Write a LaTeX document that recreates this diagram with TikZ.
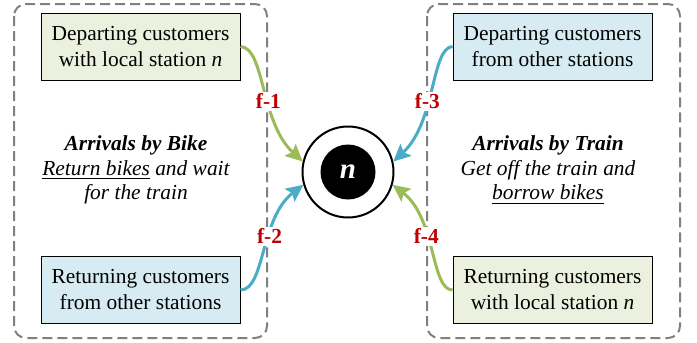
\documentclass[tikz,border=0pt]{standalone}
\usepackage{fontspec}
\setmainfont{Liberation Serif}
\usepackage{tikz}
\usetikzlibrary{arrows.meta,positioning}

\definecolor{boxgreen}{HTML}{EBF1DE}
\definecolor{boxblue}{HTML}{D6ECF2}
\definecolor{flowgreen}{HTML}{9BBB59}
\definecolor{flowblue}{HTML}{4BACC6}
\definecolor{flowred}{HTML}{C00000}

\begin{document}
\begin{tikzpicture}[x=0.5pt, y=-0.5pt, font=\fontsize{10.7}{13}\selectfont,
    group/.style={draw=gray, dash pattern=on 5pt off 2.5pt, line width=1pt, rounded corners=6pt},
    custbox/.style={rectangle, draw, line width=0.5pt, align=center, minimum width=99.5pt, minimum height=33.5pt},
    flow/.style={line width=1.5pt, -{Stealth[length=8.5pt,width=8pt,inset=1.5pt]}},
    flowlabel/.style={fill=white, text=flowred, font=\fontsize{10.7}{13}\selectfont\bfseries, inner sep=1pt},
    info/.style={align=center, font=\fontsize{10.7}{12.3}\selectfont\itshape}]

    \useasboundingbox (0,0) rectangle (697,343);

    % dashed groups
    \draw [group] (14,4) rectangle (267,338);
    \draw [group] (427,4) rectangle (680,338);

    % customer boxes
    \node (deplocal) [custbox, fill=boxgreen] at (140.5,46.5) {Departing customers\\with local station \textit{n}};
    \node (retother) [custbox, fill=boxblue] at (140.5,290) {Returning customers\\from other stations};
    \node (depother) [custbox, fill=boxblue] at (552.5,46.5) {Departing customers\\from other stations};
    \node (retlocal) [custbox, fill=boxgreen] at (552.5,290) {Returning customers\\with local station \textit{n}};

    % station n
    \node (hub) [circle, draw, line width=1pt, minimum size=45.5pt] at (348,172) {};
    \node (core) [circle, fill=black, minimum size=27.5pt, inner sep=0pt, text=white,
        font=\fontsize{14.5}{14.5}\selectfont\bfseries\itshape] at (hub) {n};

    % group captions
    \node (bikeinfo) [info] at (136,170) {\textbf{Arrivals by Bike}\\\underline{Return bikes} and wait\\for the train};
    \node (traininfo) [info] at (548,170) {\textbf{Arrivals by Train}\\Get off the train and\\\underline{borrow bikes}};

    % flows into the station
    \draw [flow, flowgreen] (deplocal.east) .. controls (265,48) and (260,122) .. (hub.167)
        node [flowlabel, pos=0.58] (f1) {f-1};
    \draw [flow, flowblue] (retother.east) .. controls (265,290) and (260,218) .. (hub.196)
        node [flowlabel, pos=0.6] (f2) {f-2};
    \draw [flow, flowblue] (depother.west) .. controls (431,48) and (436,122) .. (hub.13)
        node [flowlabel, pos=0.58] (f3) {f-3};
    \draw [flow, flowgreen] (retlocal.west) .. controls (431,290) and (436,218) .. (hub.-16)
        node [flowlabel, pos=0.6] (f4) {f-4};
\end{tikzpicture}
\end{document}
